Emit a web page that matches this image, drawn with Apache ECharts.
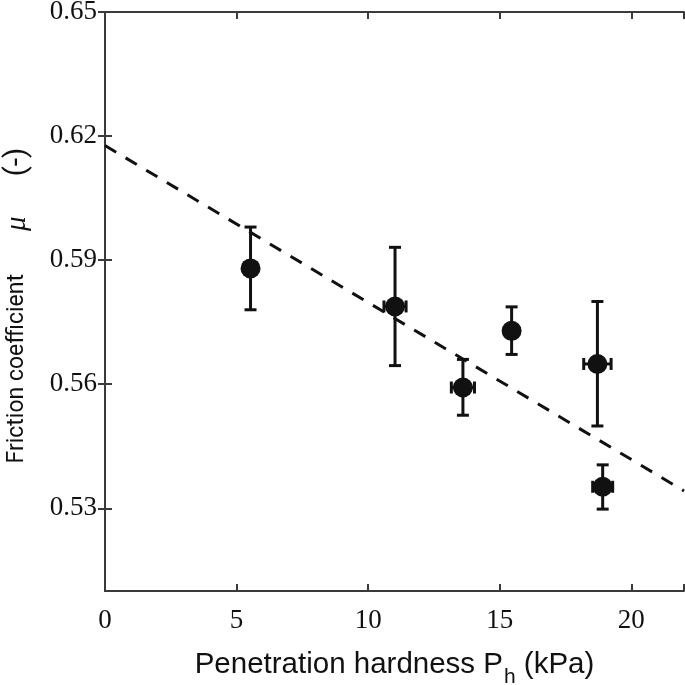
<!DOCTYPE html>
<html>
<head>
<meta charset="utf-8">
<script src="https://cdn.jsdelivr.net/npm/echarts@6/dist/echarts.min.js"></script>
<style>
html,body{margin:0;padding:0;background:#fff;}
#chart{width:685px;height:685px;}
</style>
</head>
<body>
<div id="chart"></div>
<script>
// Data
const hardness = [5.53, 11.02, 13.6, 15.45, 18.71, 18.91];        // P_h (kPa)
const friction = [0.588, 0.5788, 0.5592, 0.5729, 0.5649, 0.5352]; // mu
const frictionLow = [0.578, 0.5645, 0.5525, 0.5672, 0.5499, 0.5298];
const frictionHigh = [0.598, 0.5931, 0.566, 0.5787, 0.580, 0.5405];
const hardnessErr = [0, 0.42, 0.44, 0, 0.52, 0.38];
const fitX = [0, 22];
const fitY = [0.6177, 0.5342];
const xTicks = [0, 5, 10, 15, 20];
const yTicks = [0.53, 0.56, 0.59, 0.62, 0.65];

const ink = '#111111';
const axisColor = '#3a3a3a';

const errData = hardness.map((x, i) => [x, friction[i], frictionLow[i], frictionHigh[i], hardnessErr[i]]);
const pointData = hardness.map((x, i) => [x, friction[i]]);
const fitData = fitX.map((x, i) => [x, fitY[i]]);

function renderErr(params, api) {
  const x = api.value(0), y = api.value(1), lo = api.value(2), hi = api.value(3), xe = api.value(4);
  const pLo = api.coord([x, lo]), pHi = api.coord([x, hi]);
  const cap = 6;
  const st = {stroke: ink, lineWidth: 3, lineCap: 'butt'};
  const children = [
    {type: 'line', shape: {x1: pLo[0], y1: pLo[1], x2: pHi[0], y2: pHi[1]}, style: st},
    {type: 'line', shape: {x1: pHi[0] - cap, y1: pHi[1], x2: pHi[0] + cap, y2: pHi[1]}, style: st},
    {type: 'line', shape: {x1: pLo[0] - cap, y1: pLo[1], x2: pLo[0] + cap, y2: pLo[1]}, style: st}
  ];
  if (xe > 0) {
    const pL = api.coord([x - xe, y]), pR = api.coord([x + xe, y]);
    children.push({type: 'line', shape: {x1: pL[0], y1: pL[1], x2: pR[0], y2: pR[1]}, style: st});
    children.push({type: 'line', shape: {x1: pL[0], y1: pL[1] - cap, x2: pL[0], y2: pL[1] + cap}, style: st});
    children.push({type: 'line', shape: {x1: pR[0], y1: pR[1] - cap, x2: pR[0], y2: pR[1] + cap}, style: st});
  }
  return {type: 'group', children};
}

const chart = echarts.init(document.getElementById('chart'), null, {renderer: 'canvas'});
const baseAxisLine = {show: true, lineStyle: {color: axisColor, width: 2}};
const tickStyle = {show: true, inside: true, length: 7, lineStyle: {color: axisColor, width: 2}};

chart.setOption({
  animation: false,
  backgroundColor: '#fff',
  grid: {left: 105, right: 1, top: 12, bottom: 94, containLabel: false, outerBoundsMode: 'none'},
  xAxis: [
    {
      type: 'value', min: 0, max: 22, interval: 5, position: 'bottom',
      axisLine: baseAxisLine, axisTick: tickStyle, splitLine: {show: false},
      axisLabel: {
        show: true, margin: 16, color: '#111', fontFamily: 'Liberation Serif', fontSize: 27,
        customValues: xTicks, formatter: v => String(v)
      },
      name: '{a|Penetration hardness P}{s|h}{a| (kPa)}',
      nameLocation: 'middle', nameGap: 59,
      nameTextStyle: {
        rich: {
          a: {fontFamily: 'Liberation Sans', fontSize: 29.5, color: '#111', lineHeight: 34, verticalAlign: 'top'},
          s: {fontFamily: 'Liberation Sans', fontSize: 21, color: '#111', lineHeight: 20, verticalAlign: 'top', padding: [17, 0, 0, 1]}
        }
      }
    },
    {
      type: 'value', min: 0, max: 22, interval: 5, position: 'top',
      axisLine: baseAxisLine, axisTick: tickStyle, axisLabel: {show: false}, splitLine: {show: false}
    }
  ],
  yAxis: [
    {
      type: 'value', min: 0.51, max: 0.65, position: 'left',
      axisLine: baseAxisLine,
      axisTick: Object.assign({}, tickStyle, {customValues: yTicks}),
      splitLine: {show: false},
      axisLabel: {
        show: true, margin: 8, color: '#111', fontFamily: 'Liberation Serif', fontSize: 27,
        customValues: yTicks, formatter: v => v.toFixed(2)
      },
      name: '{f|Friction coefficient}{b|μ}{a|(-)}',
      nameLocation: 'middle', nameGap: 73, nameRotate: 90,
      nameTextStyle: {
        rich: {
          f: {fontFamily: 'Roboto', fontSize: 23, color: '#111'},
          a: {fontFamily: 'Roboto', fontSize: 30, color: '#111', padding: [0, 8, 0, 0]},
          b: {fontFamily: 'Liberation Serif', fontStyle: 'italic', fontSize: 29, color: '#111', padding: [0, 40, 0, 43]}
        }
      }
    },
    {
      type: 'value', min: 0.51, max: 0.65, position: 'right',
      axisLine: baseAxisLine,
      axisTick: Object.assign({}, tickStyle, {customValues: yTicks}),
      axisLabel: {show: false}, splitLine: {show: false}
    }
  ],
  series: [
    {
      type: 'line', data: fitData, xAxisIndex: 0, yAxisIndex: 0,
      showSymbol: false, symbol: 'none', z: 1,
      lineStyle: {color: ink, width: 3, type: [13, 11]}
    },
    {
      type: 'custom', data: errData, xAxisIndex: 0, yAxisIndex: 0,
      renderItem: renderErr, encode: {x: 0, y: [1, 2, 3]}, z: 3
    },
    {
      type: 'scatter', data: pointData, xAxisIndex: 0, yAxisIndex: 0,
      symbol: 'circle', symbolSize: 20, itemStyle: {color: ink, opacity: 1}, z: 4
    }
  ]
});
</script>
</body>
</html>
